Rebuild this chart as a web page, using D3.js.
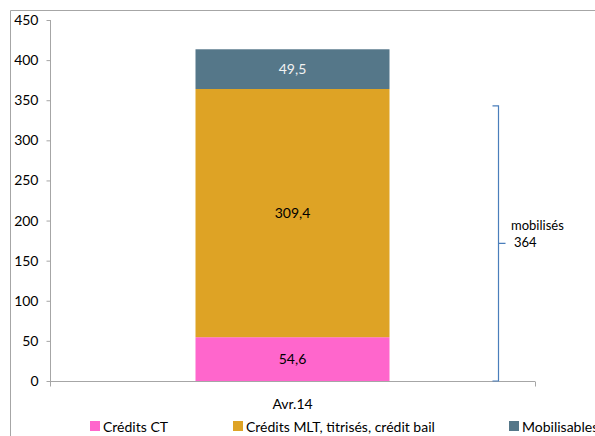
<!DOCTYPE html>
<html>
<head>
    <meta charset="UTF-8">
    <style>
        body { margin: 0; background: #fff; }
        svg text { font-family: Lato, "Open Sans", sans-serif; fill: #000; }
    </style>
    <script src="https://cdn.jsdelivr.net/npm/d3@7"></script>
</head>
<body>
<svg id="chart" width="595" height="436"></svg>
<script>
    // data
    const categories = ["Avr.14"];
    const seriesNames = ["Crédits CT", "Crédits MLT, titrisés, crédit bail", "Mobilisables"];
    const seriesValues = [[54.6], [309.4], [49.5]];
    const seriesColors = ["#FF66CC", "#DEA325", "#557789"];
    const labelColors = ["#000", "#000", "#f2f2f2"];
    const yTicks = [0, 50, 100, 150, 200, 250, 300, 350, 400, 450];
    const bracketLabel = ["mobilisés", "364"];
    // hand-drawn brace in the source: it stops a bit below the 364 mark
    const bracketRange = [0, 343];

    const svg = d3.select("#chart");
    const plotL = 50, plotR = 535, plotT = 20, plotB = 381;

    // outer frame (top and left edges only visible)
    svg.append("path")
        .attr("d", "M10.5,436 V10.5 H595")
        .attr("fill", "none")
        .attr("stroke", "#a6a6a6");

    const x = d3.scaleBand().domain(categories).range([plotL, plotR]).paddingInner(0).paddingOuter(0);
    const y = d3.scaleLinear().domain([0, 450]).range([plotB, plotT]);

    // stacked bar
    const rows = categories.map((c, i) => {
        const r = { cat: c };
        seriesNames.forEach((s, j) => r[s] = seriesValues[j][i]);
        return r;
    });
    const stack = d3.stack().keys(seriesNames)(rows);
    const barW = x.bandwidth() * 0.4;

    stack.forEach((layer, j) => {
        layer.forEach(d => {
            const bx = x(d.data.cat) + (x.bandwidth() - barW) / 2;
            svg.append("rect")
                .attr("x", bx)
                .attr("y", y(d[1]))
                .attr("width", barW)
                .attr("height", y(d[0]) - y(d[1]))
                .attr("fill", seriesColors[j]);
            svg.append("text")
                .attr("x", bx + barW / 2)
                .attr("y", (y(d[0]) + y(d[1])) / 2 + 5)
                .attr("text-anchor", "middle")
                .style("font-size", "14px")
                .style("fill", labelColors[j])
                .text(d3.format(".1f")(d[1] - d[0]).replace(".", ","));
        });
    });

    // y axis
    const yAxis = svg.append("g")
        .attr("transform", `translate(${plotL + 0.5},0)`)
        .call(d3.axisLeft(y).tickValues(yTicks).tickSize(4).tickPadding(8));
    yAxis.select(".domain").attr("stroke", "#a6a6a6").attr("d", `M0,${plotT} V${plotB}`);
    yAxis.selectAll(".tick line").attr("stroke", "#a6a6a6");
    yAxis.selectAll(".tick text").style("font-size", "14px").style("font-family", "Lato, sans-serif").attr("fill", "#000");

    // x axis
    const xAxis = svg.append("g")
        .attr("transform", `translate(0,${plotB + 0.5})`)
        .call(d3.axisBottom(x).tickSize(0).tickPadding(18));
    xAxis.select(".domain").attr("stroke", "#a6a6a6").attr("d", `M${plotL},0 H${plotR}`);
    xAxis.selectAll(".tick text").style("font-size", "14px").style("font-family", "Lato, sans-serif").attr("fill", "#000");
    xAxis.selectAll(".edge").data([plotL + 0.5, plotR + 0.5]).enter().append("line")
        .attr("x1", d => d).attr("x2", d => d)
        .attr("y1", 0).attr("y2", 5)
        .attr("stroke", "#a6a6a6");

    // bracket
    const brX = 498.5;
    const yTop = y(bracketRange[1]), yBot = y(bracketRange[0]);
    const yMid = (yTop + yBot) / 2;
    svg.append("path")
        .attr("d", `M${brX - 6},${yTop} H${brX} V${yBot} H${brX - 6} M${brX},${yMid} H${brX + 7}`)
        .attr("fill", "none")
        .attr("stroke", "#4a7ebb")
        .attr("stroke-width", 1.2);
    svg.append("text").attr("x", 511).attr("y", yMid - 13.5).style("font-size", "13px").text(bracketLabel[0]);
    svg.append("text").attr("x", 514).attr("y", yMid + 3.5).style("font-size", "13px").text(bracketLabel[1]);

    // legend
    const legendX = [90, 233, 509];
    const legend = svg.selectAll(".lg").data(seriesNames).enter().append("g")
        .attr("transform", (d, i) => `translate(${legendX[i]},421)`);
    legend.append("rect").attr("width", 10).attr("height", 10).attr("fill", (d, i) => seriesColors[i]);
    legend.append("text").attr("x", 13).attr("y", 10.5).style("font-size", "14px").text(d => d);
</script>
</body>
</html>
